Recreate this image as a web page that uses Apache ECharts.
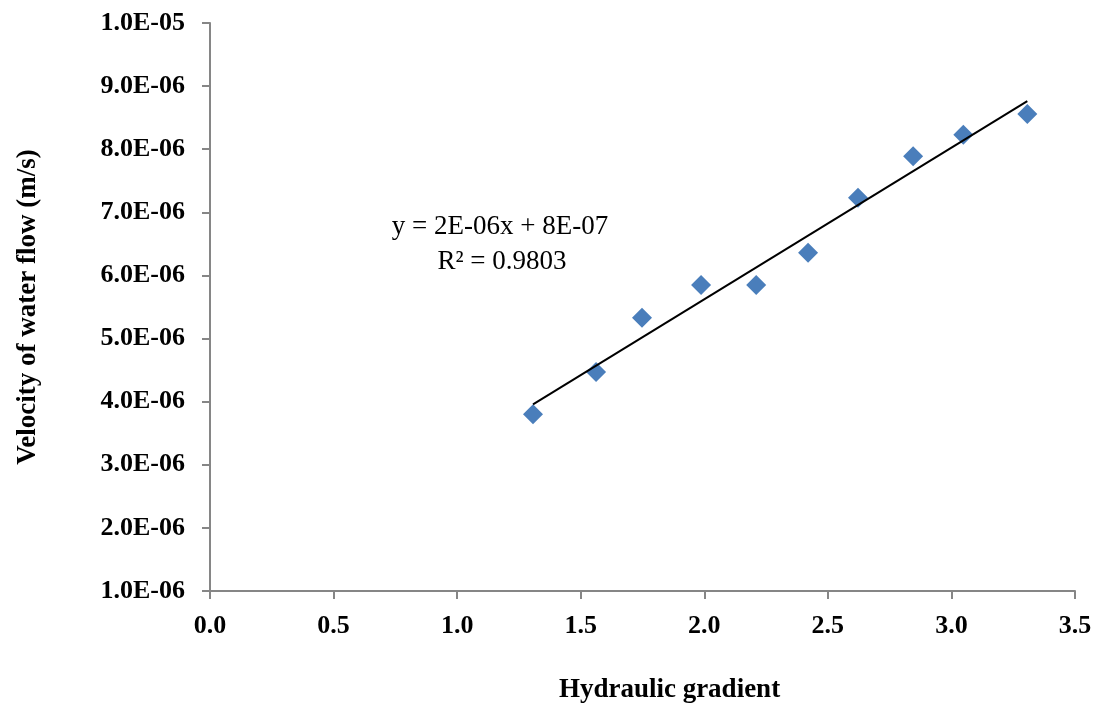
<!DOCTYPE html>
<html>
<head>
<meta charset="utf-8">
<script src="https://cdn.jsdelivr.net/npm/echarts@6/dist/echarts.min.js"></script>
<style>
  html, body { margin: 0; padding: 0; background: #fff; }
  #chart { width: 1094px; height: 704px; }
</style>
</head>
<body>
<div id="chart"></div>
<script>
const varFont = 'Liberation Serif';

// hydraulic gradient (x) and velocity of water flow in m/s (y)
const gradient = [1.307, 1.562, 1.748, 1.987, 2.210, 2.420, 2.622, 2.845, 3.048, 3.307];
const velocity = [3.80e-6, 4.47e-6, 5.33e-6, 5.85e-6, 5.85e-6, 6.36e-6, 7.23e-6, 7.89e-6, 8.23e-6, 8.56e-6];

const equationLines = ['y = 2E-06x + 8E-07', 'R\u00b2 = 0.9803'];

//-----------------------------------------------------------------------------
// linear trend line (least squares) over the range of the data
function linearFit(xs, ys) {
    let n = xs.length;
    let mx = xs.reduce((a, b) => a + b, 0) / n;
    let my = ys.reduce((a, b) => a + b, 0) / n;
    let sxy = 0, sxx = 0;
    for (let i = 0; i < n; i++) {
        sxy += (xs[i] - mx) * (ys[i] - my);
        sxx += (xs[i] - mx) * (xs[i] - mx);
    }
    let slope = sxy / sxx;
    return { slope: slope, intercept: my - slope * mx };
}

const fit = linearFit(gradient, velocity);
const xMin = Math.min(...gradient);
const xMax = Math.max(...gradient);
const trendData = [
    [xMin, fit.slope * xMin + fit.intercept],
    [xMax, fit.slope * xMax + fit.intercept],
];

const pointData = gradient.map((g, i) => [g, velocity[i]]);

function expLabel(value) {
    // 1.0E-06 style
    let s = value.toExponential(1).toUpperCase();
    return s.replace(/E([+-])(\d)$/, 'E$10$2');
}

var myChart = echarts.init(document.getElementById('chart'));

var option = {
    animation: false,
    textStyle: {
        fontFamily: varFont,
    },
    grid: {
        left: 210,
        right: 19,
        top: 23,
        bottom: 113,
        outerBoundsMode: 'none',
    },
    xAxis: {
        type: 'value',
        min: 0,
        max: 3.5,
        interval: 0.5,
        name: 'Hydraulic gradient',
        nameLocation: 'middle',
        nameGap: 86,
        nameTextStyle: {
            fontFamily: varFont,
            fontWeight: 'bold',
            fontSize: 27,
            color: '#000',
            padding: [0, 0, 0, 54],
        },
        axisLine: { show: true, lineStyle: { color: '#868686', width: 2 } },
        axisTick: { show: true, length: 8, lineStyle: { color: '#868686', width: 2 } },
        splitLine: { show: false },
        axisLabel: {
            margin: 22,
            fontFamily: varFont,
            fontWeight: 'bold',
            fontSize: 26,
            color: '#000',
            formatter: (v) => v.toFixed(1),
        },
    },
    yAxis: {
        type: 'value',
        min: 1e-6,
        max: 1e-5,
        interval: 1e-6,
        name: 'Velocity of water flow (m/s)',
        nameLocation: 'middle',
        nameGap: 168,
        nameTextStyle: {
            fontFamily: varFont,
            fontWeight: 'bold',
            fontSize: 27,
            color: '#000',
        },
        axisLine: { show: true, lineStyle: { color: '#868686', width: 2 } },
        axisTick: { show: true, length: 8, lineStyle: { color: '#868686', width: 2 } },
        splitLine: { show: false },
        axisLabel: {
            margin: 25,
            fontFamily: varFont,
            fontWeight: 'bold',
            fontSize: 26,
            color: '#000',
            formatter: expLabel,
        },
    },
    graphic: [
        {
            type: 'text',
            x: 500,
            y: 227,
            style: {
                text: equationLines[0],
                fontFamily: varFont,
                fontSize: 27,
                fill: '#000',
                align: 'center',
                verticalAlign: 'middle',
            },
        },
        {
            type: 'text',
            x: 502,
            y: 262,
            style: {
                text: equationLines[1],
                fontFamily: varFont,
                fontSize: 27,
                fill: '#000',
                align: 'center',
                verticalAlign: 'middle',
            },
        },
    ],
    series: [
        {
            name: 'trend',
            type: 'line',
            data: trendData,
            symbol: 'none',
            lineStyle: { color: '#000', width: 2 },
            z: 3,
        },
        {
            name: 'velocity',
            type: 'scatter',
            data: pointData,
            symbol: 'diamond',
            symbolSize: 20,
            itemStyle: { color: '#4a7ebb', opacity: 1 },
            z: 2,
        },
    ],
};

myChart.setOption(option);
</script>
</body>
</html>
